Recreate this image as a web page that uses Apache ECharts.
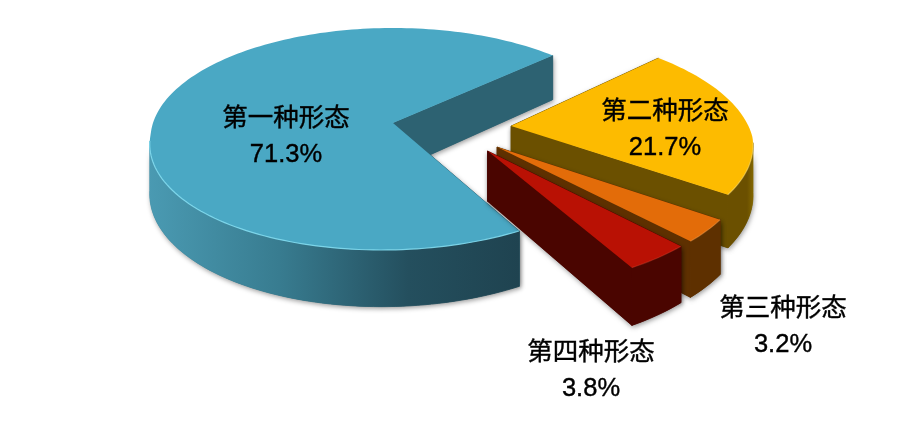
<!DOCTYPE html>
<html><head><meta charset="utf-8">
<style>html,body{margin:0;padding:0;background:#fff}#c{width:901px;height:421px}</style>
<script src="https://cdn.jsdelivr.net/npm/echarts@6/dist/echarts.min.js"></script>
</head><body><div id="c"></div>
<script>
const names = ['第一种形态','第二种形态','第三种形态','第四种形态'];
const values = [71.3,21.7,3.2,3.8];

// view geometry (perspective disc, exploded slices)
const CX=393, CY=123, R=240, RY=108.7, K=0.144, H=48.5, START=299.7, SHEAR=11/240;
const explode=[[0,0],[0.49,0.028],[0.42,0.214],[0.38,0.248]];
const radiusU=[1,0.985,0.99,0.99];
const labelPos=[[286,137],[665,130],[783,327],[591,371]];
const topColor=['#4aa8c4','#fdbb00','#e36c09','#b91104'];
const cutColor=['#2d6272','#6b5000','#5e3000','#4a0500'];
const wallStops=[
 [[0,'#4a9ab2'],[0.35,'#387c90'],[0.7,'#244f5e'],[1,'#1f4350']],
 [[0,'#6b5000'],[0.75,'#6b5000'],[1,'#846800']],
 [[0,'#5e3000'],[1,'#5e3000']],
 [[0,'#4a0500'],[1,'#4a0500']]];
const rimColor=['rgba(130,220,240,0.9)','rgba(255,225,120,0.5)','rgba(255,170,90,0.4)','rgba(240,90,60,0.3)'];

function proj(u,v,z){const s=1/(1-K*v);return [CX+R*u*s,CY+RY*v*s+z*s];}
function rimPt(i,deg,z){
  const t=deg*Math.PI/180, vl=-Math.sin(t);
  return proj(explode[i][0]+radiusU[i]*Math.cos(t)-SHEAR*Math.max(vl-0.1,0),explode[i][1]+vl,z);
}
function apex(i,z){return proj(explode[i][0],explode[i][1],z);}
const SH={shadowBlur:5,shadowColor:'rgba(0,0,0,0.4)',shadowOffsetX:1,shadowOffsetY:2};

function renderItem(params,api){
  const i=params.dataIndex;
  let before=0;for(let j=0;j<i;j++)before+=values[j];
  const val=api.value(0);
  const a0=START-before*3.6, a1=a0-val*3.6;
  const N=Math.max(8,Math.ceil((a0-a1)/1.5));
  const arc=[],wallA=[],wallB=[];
  for(let n=0;n<=N;n++){
    const d=a0+(a1-a0)*n/N;
    arc.push(rimPt(i,d,0));
    if(-Math.sin(d*Math.PI/180)>=K){wallA.push(rimPt(i,d,0));wallB.push(rimPt(i,d,H));}
  }
  const kids=[];
  const wallPts=wallA.concat(wallB.slice().reverse());
  const cutPts=(d)=>[apex(i,0),rimPt(i,d,0),rimPt(i,d,H),apex(i,H)];
  // shadow layer first, then clean faces on top so no seams show between them
  if(wallA.length>1) kids.push({type:'polygon',shape:{points:wallPts},style:Object.assign({fill:cutColor[i]},SH)});
  kids.push({type:'polygon',shape:{points:cutPts(a0)},style:Object.assign({fill:cutColor[i]},SH)});
  kids.push({type:'polygon',shape:{points:cutPts(a1)},style:Object.assign({fill:cutColor[i]},SH)});
  kids.push({type:'polygon',shape:{points:cutPts(a0)},style:{fill:cutColor[i],stroke:cutColor[i],lineWidth:0.6}});
  kids.push({type:'polygon',shape:{points:cutPts(a1)},style:{fill:cutColor[i],stroke:cutColor[i],lineWidth:0.6}});
  if(wallA.length>1){
    const g=()=>new echarts.graphic.LinearGradient(0,0,1,0,wallStops[i].map(s=>({offset:s[0],color:s[1]})));
    kids.push({type:'polygon',shape:{points:wallPts},style:{fill:g(),stroke:g(),lineWidth:0.8}});
  }
  kids.push({type:'polygon',shape:{points:[apex(i,0)].concat(arc)},style:{fill:topColor[i]}});
  if(wallA.length>1){
    kids.push({type:'polyline',shape:{points:wallA},style:{fill:null,stroke:rimColor[i],lineWidth:1.2}});
  }
  return {type:'group',children:kids};
}

function renderLabel(params,api){
  const i=params.dataIndex;
  return {type:'text',x:labelPos[i][0],y:labelPos[i][1],style:{
    text:names[i]+'\n'+api.value(0)+'%',
    fill:'#000',stroke:'#000',lineWidth:0.4,align:'center',verticalAlign:'middle',lineHeight:36,
    font:'25.5px "Liberation Sans","Noto Sans CJK SC",sans-serif'}};
}

const chart=echarts.init(document.getElementById('c'),null,{renderer:'canvas'});
chart.setOption({
  animation:false,backgroundColor:'#fff',
  series:[
    {type:'custom',coordinateSystem:'none',renderItem,data:values.map(v=>[v]),z:1,silent:true},
    {type:'custom',coordinateSystem:'none',renderItem:renderLabel,data:values.map(v=>[v]),z:2,silent:true}
  ]
});
</script></body></html>
